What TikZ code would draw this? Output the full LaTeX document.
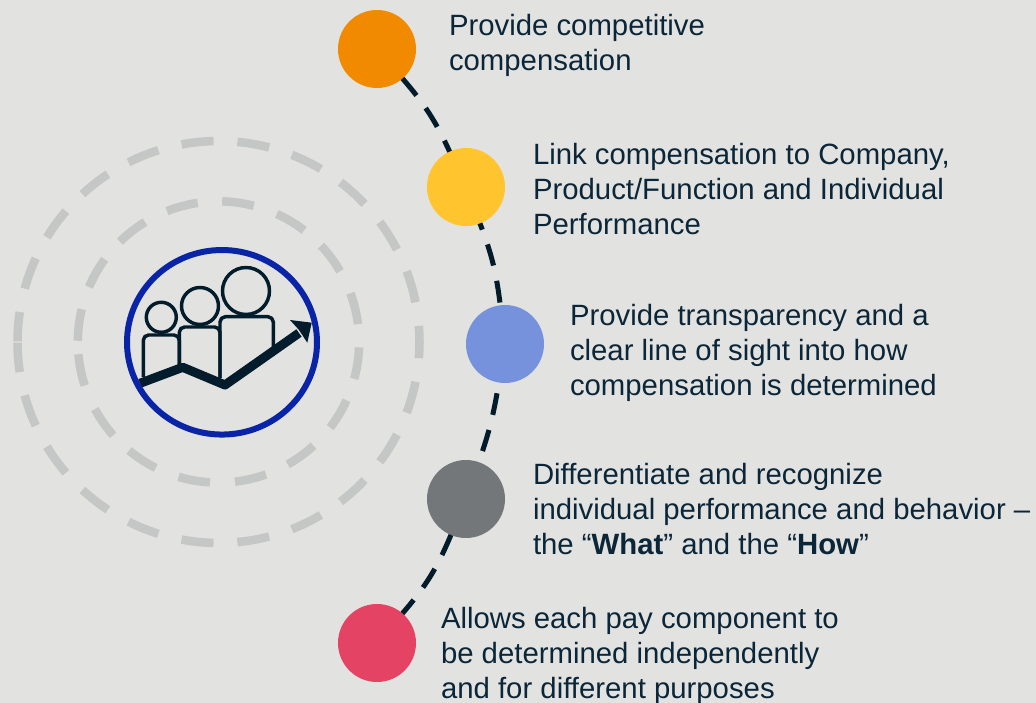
\documentclass[tikz,border=0pt]{standalone}
\usepackage{fontspec}
\setmainfont{Liberation Sans}
\definecolor{bgc}{HTML}{E2E2E0}
\definecolor{navy}{HTML}{021C2C}
\definecolor{txt}{HTML}{0B2638}
\definecolor{ringc}{HTML}{C5C7C6}
\definecolor{bluer}{HTML}{0A24A8}
\definecolor{c1c}{HTML}{F28A00}
\definecolor{c2c}{HTML}{FFC42E}
\definecolor{c3c}{HTML}{7692DC}
\definecolor{c4c}{HTML}{747779}
\definecolor{c5c}{HTML}{E54363}
\tikzset{
  x=0.75pt,y=0.75pt,
  dot/.style={circle,minimum size=58.5pt,inner sep=0pt,outer sep=0pt,fill=#1},
  conn/.style={draw=navy,line width=3.75pt,dash pattern=on 16.5pt off 11.7pt},
  lab/.style={anchor=north west,align=left,inner sep=0pt,outer sep=0pt,text=txt,font=\fontsize{22}{26.25}\selectfont},
  ring/.style={draw=ringc,line width=6.4pt},
  person/.style={draw=navy,line width=2.6pt,line join=round},
  trend/.style={draw=navy,line width=6.8pt,line join=round}
}
\begin{document}
\begin{tikzpicture}
\useasboundingbox (0,0) rectangle (1036,703);
\fill[bgc] (0,0) rectangle (1036,703);
% rings
\coordinate (rc) at (218.5,361);
\foreach \a in {-160,-144,...,160}{
  \draw[ring] ([shift={(rc)}]\a-4.6:150.75pt) arc[start angle=\a-4.6,end angle=\a+4.6,radius=150.75pt];
}
\draw[ring] ([shift={(rc)}]171.4:150.75pt) arc[start angle=171.4,end angle=179.8,radius=150.75pt];
\draw[ring] ([shift={(rc)}]180.2:150.75pt) arc[start angle=180.2,end angle=188.6,radius=150.75pt];
\foreach \a in {173,150.5,128,105,82,59,36.7,13.8,-8.7,-31,-54,-76.8,-100,-123,-145,-168.5}{
  \draw[ring] ([shift={(rc)}]\a-6.5:105.5pt) arc[start angle=\a-6.5,end angle=\a+6.5,radius=105.5pt];
}
% icon
\foreach \cx/\cy/\r in {161.3/385.7/15,200/397/18.5,246/412/23.5}{
  \draw[person] (\cx,\cy) circle[radius=\r*0.75pt];
}
\draw[person,rounded corners=4pt] (143.3,326) -- (143.3,368) -- (179.3,368) -- (179.3,338);
\draw[person,rounded corners=4pt] (179.3,338) -- (179.3,376) -- (220,376) -- (220,325);
\draw[person,rounded corners=4pt] (220,325) -- (220,386.3) -- (273.3,386.3) -- (273.3,356);
\draw[trend] (140,319.7) -- (182.7,335.7) -- (225,318) -- (299,370);
\fill[navy] (311.7,380.3) -- (290,383) -- (299,373) -- (307.3,360.3) -- cycle;
\draw[draw=bluer,line width=4.5pt] (222,360.7) ellipse[x radius=71.25pt,y radius=69.2pt];
% nodes
\node[dot=c1c] (c1) at (377,654) {};
\node[dot=c2c] (c2) at (466,516) {};
\node[dot=c3c] (c3) at (505,359) {};
\node[dot=c4c] (c4) at (466,204) {};
\node[dot=c5c] (c5) at (377,60) {};
\draw[conn] (c1) to[bend left=8] (c2);
\draw[conn,dash phase=11.5pt] (c2) to[bend left=7] (c3);
\draw[conn,dash phase=20pt] (c3) to[bend left=5] (c4);
\draw[conn] (c4) to[bend left=9] (c5);
% labels
\node[lab] (t1) at (449,689) {Provide competitive\\compensation};
\node[lab] (t2) at (533,560) {Link compensation to Company,\\Product/Function and Individual\\Performance};
\node[lab] (t3) at (570,399) {Provide transparency and a\\clear line of sight into how\\compensation is determined};
\node[lab] (t4) at (533,240) {Differentiate and recognize\\individual performance and behavior –\\the “\textbf{What}” and the “\textbf{How}”};
\node[lab] (t5) at (441,96) {Allows each pay component to\\be determined independently\\and for different purposes};
\end{tikzpicture}
\end{document}
